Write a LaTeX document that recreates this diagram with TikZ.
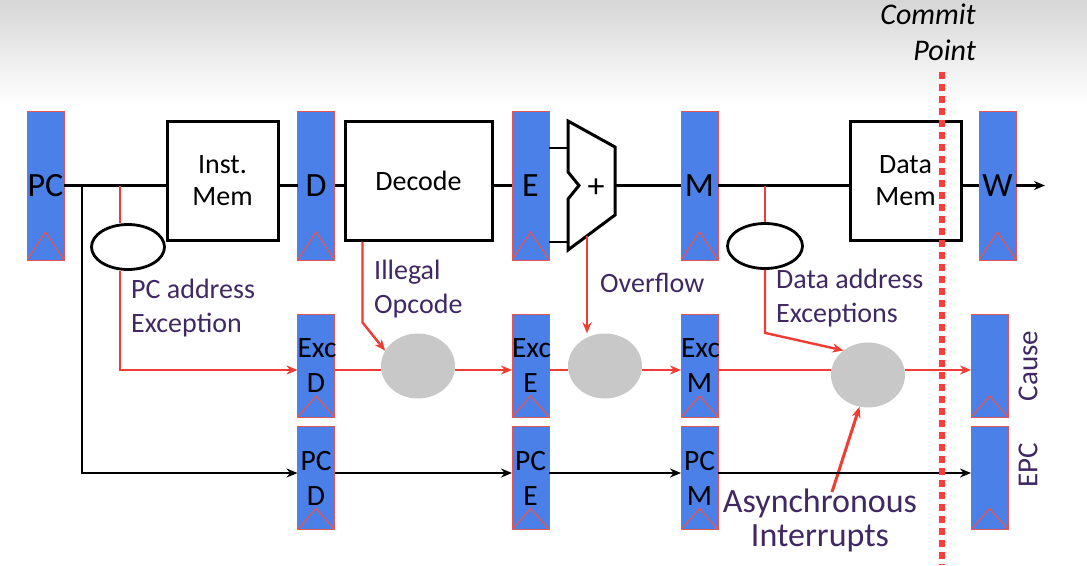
\documentclass[tikz,border=0pt]{standalone}
\usepackage{fontspec}
\setmainfont{Carlito}
\usetikzlibrary{arrows.meta,shapes.geometric}
\definecolor{regblue}{RGB}{74,128,232}
\definecolor{regred}{RGB}{228,86,86}
\definecolor{excred}{RGB}{240,60,50}
\definecolor{lblpurple}{RGB}{64,40,100}
\definecolor{cpred}{RGB}{255,60,60}
\definecolor{bubble}{RGB}{200,200,200}
\definecolor{topgray}{RGB}{214,214,214}
\begin{document}
\begin{tikzpicture}[x=1pt,y=-1pt,
  regbase/.style={draw=regred, line width=0.8pt, fill=regblue, minimum width=37pt,
    text width=37pt, inner sep=0pt, outer sep=0pt, align=center},
  bigreg/.style={regbase, minimum height=149pt, font=\fontsize{34}{36}\selectfont,
    path picture={\draw[regred, line width=1.2pt] (path picture bounding box.south west)
      -- ([yshift=28pt]path picture bounding box.south) -- (path picture bounding box.south east);}},
  smallreg/.style={regbase, minimum height=103pt, font=\fontsize{29.5}{35}\selectfont,
    path picture={\draw[regred, line width=1.2pt] (path picture bounding box.south west)
      -- ([yshift=21pt]path picture bounding box.south) -- (path picture bounding box.south east);}},
  unit/.style={draw, line width=3pt, fill=white, minimum height=119pt, inner sep=0pt,
    align=center, font=\fontsize{28}{32}\selectfont},
  chk/.style={ellipse, draw, line width=2.8pt, fill=white, minimum width=73pt,
    minimum height=45pt, inner sep=0pt},
  bub/.style={ellipse, fill=bubble, minimum width=74pt, minimum height=65pt, inner sep=0pt},
  lbl/.style={text=lblpurple, inner sep=0pt, align=left, font=\fontsize{28}{34}\selectfont},
  wire/.style={draw=black, line width=2.8pt},
  wirearr/.style={wire, -{Stealth[length=11pt,width=9pt]}},
  redln/.style={draw=excred, line width=2.4pt},
  redarr/.style={redln, -{Stealth[length=11pt,width=9pt]}},
  commit/.style={draw=cpred, line width=6pt, dash pattern=on 7pt off 5pt}
]
\useasboundingbox (0,0) rectangle (1087,565);
\fill[white] (0,0) rectangle (1087,565);
\shade[top color=topgray, bottom color=white] (0,0) rectangle (1087,105);

% pipeline registers
\node[bigreg] (pc) at (45.5,185.5) {PC};
\node[bigreg] (d) at (316,185.5) {D};
\node[bigreg] (e) at (530.5,185.5) {E};
\node[bigreg] (m) at (699.5,185.5) {M};
\node[bigreg] (w) at (997.5,185.5) {W};

% lower registers
\node[smallreg] (excD) at (316,365.5) {Exc\\D};
\node[smallreg] (excE) at (530.5,365.5) {Exc\\E};
\node[smallreg] (excM) at (699.5,365.5) {Exc\\M};
\node[smallreg] (cause) at (989.5,365.5) {};
\node[smallreg] (pcD) at (316,478) {PC\\D};
\node[smallreg] (pcE) at (530.5,478) {PC\\E};
\node[smallreg] (pcM) at (699.5,478) {PC\\M};
\node[smallreg] (epc) at (989.5,478) {};

% units
\node[unit, minimum width=111pt] (imem) at (222.5,180.5) {Inst.\\Mem};
\node[unit, minimum width=147pt] (dec) at (418.5,180.5) {Decode};
\node[unit, minimum width=111pt] (dmem) at (905.5,180.5) {Data\\Mem};

% ALU
\coordinate (aluA) at (568,148);
\coordinate (aluB) at (568,242);
\coordinate (aluO) at (615,185.5);
\coordinate (ovf) at (587,236);
\draw[line width=3pt, fill=white, line join=miter]
  (568,121) -- (615,147) -- (615,215) -- (568,250) -- (568,199) -- (579,185.5) -- (568,172) -- cycle;
\node[font=\fontsize{34}{36}\selectfont, inner sep=0pt] (plus) at (596,188) {+};

% check ellipses and bubbles
\node[chk] (e1) at (128,247) {};
\node[chk, minimum width=75pt] (e2) at (765,246) {};
\node[bub] (g1) at (418,366) {};
\node[bub] (g2) at (605,366) {};
\node[bub] (g3) at (868,375) {};

% labels
\node[lbl, anchor=west] (pclbl) at (131,308) {PC address\\Exception};
\node[lbl, anchor=west] (illlbl) at (374,289) {Illegal\\Opcode};
\node[lbl, anchor=west] (ovflbl) at (600,283) {Overflow};
\node[lbl, anchor=west] (dalbl) at (776,298.5) {Data address\\Exceptions};
\node[lbl, align=center, font=\fontsize{34}{34}\selectfont] (async) at (820,520) {Asynchronous\\Interrupts};
\node[lbl, rotate=90, font=\fontsize{29}{34}\selectfont] (causelbl) at (1028,366) {Cause};
\node[lbl, rotate=90, font=\fontsize{29}{34}\selectfont] (epclbl) at (1028,465) {EPC};
\node[inner sep=0pt, align=right, anchor=east, font=\fontsize{30}{36}\selectfont\itshape] (cplbl) at (976,32) {Commit\\Point};

% main datapath
\draw[wire] (pc.east) -- (pc.east -| imem.west);
\draw[wire] (d.west -| imem.east) -- (d.west);
\draw[wire] (d.east) -- (d.east -| dec.west);
\draw[wire] (e.west -| dec.east) -- (e.west);
\draw[wire] (aluA -| e.east) -- (aluA);
\draw[wire] (aluB -| e.east) -- (aluB);
\draw[wire] (aluO) -- (m.west);
\draw[wire] (m.east) -- (m.east -| dmem.west);
\draw[wire] (w.west -| dmem.east) -- (w.west);
\coordinate (wout) at (1045,185.5);
\draw[wirearr] (w.east) -- (wout);

% branches from PC
\coordinate (bk) at (82,185.5);
\coordinate (rd) at (120,185.5);
\draw[wirearr] (bk) |- ([yshift=5pt]pcD.west);
\draw[redln] (rd) -- (rd |- e1.north);
\draw[redarr] (rd |- e1.south) |- ([yshift=-4.5pt]excD.west);

% exception sources
\draw[redarr] ([xshift=19pt]dec.south west) -- ++(0,81) -- (g1.155);
\draw[redarr] (ovf) -- (ovf |- g2.north);
\coordinate (da) at (765,185.5);
\draw[redln] (da) -- (da |- e2.north);
\draw[redarr] (da |- e2.south) -- ++(0,63) -- (g3.135);
\coordinate (as) at (832,492);
\draw[redarr, line width=3pt] (as) -- (g3.255);

% exception chain
\draw[redln] ([yshift=-4.5pt]excD.east) -- ([yshift=-4.5pt]excD.east -| g1.west);
\draw[redarr] ([yshift=-4.5pt]excD.east -| g1.east) -- ([yshift=-4.5pt]excE.west);
\draw[redln] ([yshift=-4.5pt]excE.east) -- ([yshift=-4.5pt]excE.east -| g2.west);
\draw[redarr] ([yshift=-4.5pt]excE.east -| g2.east) -- ([yshift=-4.5pt]excM.west);
\draw[redln] ([yshift=-4.5pt]excM.east) -- ([yshift=-4.5pt]excM.east -| g3.west);
\draw[redarr] ([yshift=-4.5pt]excM.east -| g3.east) -- ([yshift=-4.5pt]cause.west);

% PC chain
\draw[wirearr] ([yshift=5pt]pcD.east) -- ([yshift=5pt]pcE.west);
\draw[wirearr] ([yshift=5pt]pcE.east) -- ([yshift=5pt]pcM.west);
\draw[wirearr] ([yshift=5pt]pcM.east) -- ([yshift=5pt]epc.west);

% commit point
\coordinate (cp1) at (942,72);
\coordinate (cp2) at (942,565);
\draw[commit] (cp1) -- (cp2);
\end{tikzpicture}
\end{document}
